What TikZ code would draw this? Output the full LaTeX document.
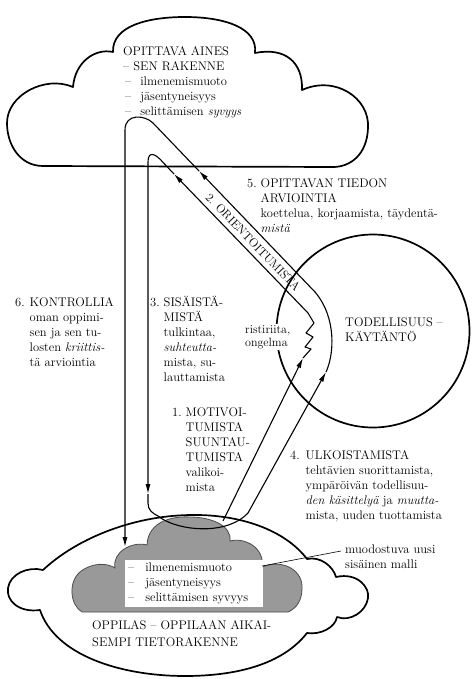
\documentclass[tikz,border=0pt]{standalone}
\usepackage{fontspec}
\usetikzlibrary{arrows.meta}
\begin{document}
\begin{tikzpicture}[x=1pt,y=-1pt,
  cloudline/.style={line width=1.7pt,line join=round},
  conn/.style={line width=1.1pt,line join=round},
  arr/.style={conn,-{Latex[length=10pt,width=5pt]}},
  lbl/.style={inner sep=0pt,anchor=base west,font=\fontsize{12.5}{15}\selectfont},
  smalllbl/.style={inner sep=0pt,anchor=base west,font=\fontsize{12}{13}\selectfont},
  shadedcloud/.style={fill=black!40,draw=black!70,line width=0.8pt},
]
\useasboundingbox (0,0) rectangle (473,679);

% ---------- top cloud ----------
\draw[cloudline] (43,166)
  .. controls (20,166) and (7,145) .. (7,123)
  .. controls (7,95) and (45,75) .. (73,87)
  .. controls (75,62) and (95,48) .. (113,52)
  .. controls (112,25) and (150,17) .. (185,17)
  .. controls (225,17) and (258,28) .. (255,53)
  .. controls (285,47) and (303,62) .. (302,90)
  .. controls (335,75) and (370,98) .. (368,128)
  .. controls (367,155) and (350,167) .. (333,167)
  -- cycle;
\node[lbl] (toptext) at (123,56) {\begin{tabular}[t]{@{}l@{}}OPITTAVA AINES\\– SEN RAKENNE\\\hspace*{2pt}–\hspace{9pt}ilmenemismuoto\\\hspace*{2pt}–\hspace{9pt}jäsentyneisyys\\\hspace*{2pt}–\hspace{9pt}selittämisen \textit{syvyys}\end{tabular}};

% ---------- bottom: shaded inner cloud ----------
\draw[shadedcloud] (82,612)
  .. controls (70,605) and (68,582) .. (80,572)
  .. controls (92,562) and (108,563) .. (115,568)
  .. controls (112,552) and (132,541) .. (147,545)
  .. controls (148,520) and (175,516) .. (190,517)
  .. controls (210,517) and (232,525) .. (230,541)
  .. controls (245,537) and (265,548) .. (262,567)
  .. controls (285,558) and (303,572) .. (302,588)
  .. controls (302,600) and (297,608) .. (288,612)
  -- cycle;
\node[fill=white,inner sep=0pt,minimum width=138pt,minimum height=47pt] (ibox) at (194,583) {};
\node[lbl] (innertext) at (128,571) {\begin{tabular}[t]{@{}l@{\hspace{11pt}}l@{}}– & ilmenemismuoto\\– & jäsentyneisyys\\– & selittämisen syvyys\end{tabular}};

% ---------- bottom: outer outline ----------
\draw[cloudline] (43,570)
  .. controls (75,540) and (130,516) .. (190,515)
  .. controls (240,514) and (285,530) .. (307,559)
  .. controls (320,556) and (333,566) .. (336,577)
  .. controls (358,572) and (370,588) .. (368,598)
  .. controls (366,612) and (350,622) .. (337,617)
  .. controls (335,628) and (320,635) .. (307,633)
  .. controls (282,665) and (235,676) .. (185,676)
  .. controls (120,676) and (55,655) .. (40,610)
  .. controls (18,613) and (6,600) .. (8,588)
  .. controls (10,574) and (28,566) .. (43,570)
  -- cycle;
\node[lbl] (oppilas) at (92,629) {\begin{tabular}[t]{@{}l@{}}OPPILAS – OPPILAAN AIKAI-\\[2pt]SEMPI TIETORAKENNE\end{tabular}};

% ---------- circle ----------
\node[draw,cloudline,circle,minimum size=193pt,inner sep=0pt] (real) at (373,331) {};
\node[lbl] (realtext) at (345,326) {\begin{tabular}[t]{@{}l@{}}TODELLISUUS –\\KÄYTÄNTÖ\end{tabular}};

% ---------- connector coordinates ----------
\coordinate (mstart) at (223,521);
\coordinate (mtip) at (303,358);
\coordinate (zzend) at (308,313);
\coordinate (intip) at (174,174);
\coordinate (inloop) at (163,162.4);
\coordinate (v148top) at (148,162);
\coordinate (v148tip) at (148,494);
\coordinate (ustart) at (148,503);
\coordinate (uend) at (248,513);
\coordinate (outtip) at (326,372);
\coordinate (bandout) at (315,292);
\coordinate (outtip2) at (199,171);
\coordinate (outloop) at (153,123);
\coordinate (v125top) at (125,130);
\coordinate (v125tip) at (125,547);

% 1. motivoitumista
\draw[arr] (mstart) -- (mtip);
% zigzag (ristiriita)
\draw[conn] (mtip) -- (311,349) -- (305,347) -- (313,337) -- (306,333) -- (314,323) -- (zzend);
% lower band line -> inner loop -> 3. sisaistamista
\draw[arr] (zzend) -- (intip);
\draw[arr] (intip) -- (inloop) .. controls (156,154) and (148,150) .. (v148top) -- (v148tip);
% U and 4. ulkoistamista
\draw[arr] (v148tip) -- (ustart) .. controls (148,510) and (152,513) .. (158,516)
  .. controls (175,530) and (225,537) .. (uend) -- (outtip);
% upper band line
\draw[arr] (outtip) .. controls (334,355) and (337,318) .. (bandout) -- (outtip2);
% outer loop -> 6. kontrollia
\draw[arr] (outtip2) -- (outloop) .. controls (145,115) and (125,113) .. (v125top) -- (v125tip);

% leader line
\coordinate (leadend) at (262,566);
\node[lbl] (muod) at (345,553) {\begin{tabular}[t]{@{}l@{}}muodostuva uusi\\sisäinen malli\end{tabular}};
\draw[line width=0.6pt] (341,551) -- (leadend);

% ---------- labels ----------
\node[font=\fontsize{12}{15}\selectfont,rotate=-46,inner sep=0pt] (orient) at (253,242) {2. ORIENTOITUMISTA};
\node[smalllbl,fill=white] (rist) at (245,333) {\begin{tabular}[t]{@{}l@{}}ristiriita,\\ongelma\end{tabular}};

\node[lbl] (t5) at (247,187) {\begin{tabular}[t]{@{}l@{\hspace{4pt}}l@{}}5. & OPITTAVAN TIEDON\\ & ARVIOINTIA\\ & koettelua, korjaamista, täydentä-\\ & \textit{mistä}\end{tabular}};
\node[lbl] (t6) at (15,306) {\begin{tabular}[t]{@{}l@{\hspace{5pt}}l@{}}6. & KONTROLLIA\\ & oman oppimi-\\ & sen ja sen tu-\\ & losten \textit{kriittis-}\\ & tä arviointia\end{tabular}};
\node[lbl] (t3) at (150,306) {\begin{tabular}[t]{@{}l@{\hspace{4pt}}l@{}}3. & SISÄISTÄ-\\ & MISTÄ\\ & tulkintaa,\\ & \textit{suhteutta-}\\ & mista, su-\\ & lauttamista\end{tabular}};
\node[lbl] (t1) at (172,416) {\begin{tabular}[t]{@{}l@{\hspace{4pt}}l@{}}1. & MOTIVOI-\\ & TUMISTA\\ & SUUNTAU-\\ & TUMISTA\\ & valikoi-\\ & mista\end{tabular}};
\node[lbl] (t4) at (290,459) {\begin{tabular}[t]{@{}l@{\hspace{6pt}}l@{}}4. & ULKOISTAMISTA\\ & tehtävien suorittamista,\\ & ympäröivän todellisuu-\\ & \textit{den käsittelyä} ja \textit{muutta-}\\ & mista, uuden tuottamista\end{tabular}};
\end{tikzpicture}
\end{document}
